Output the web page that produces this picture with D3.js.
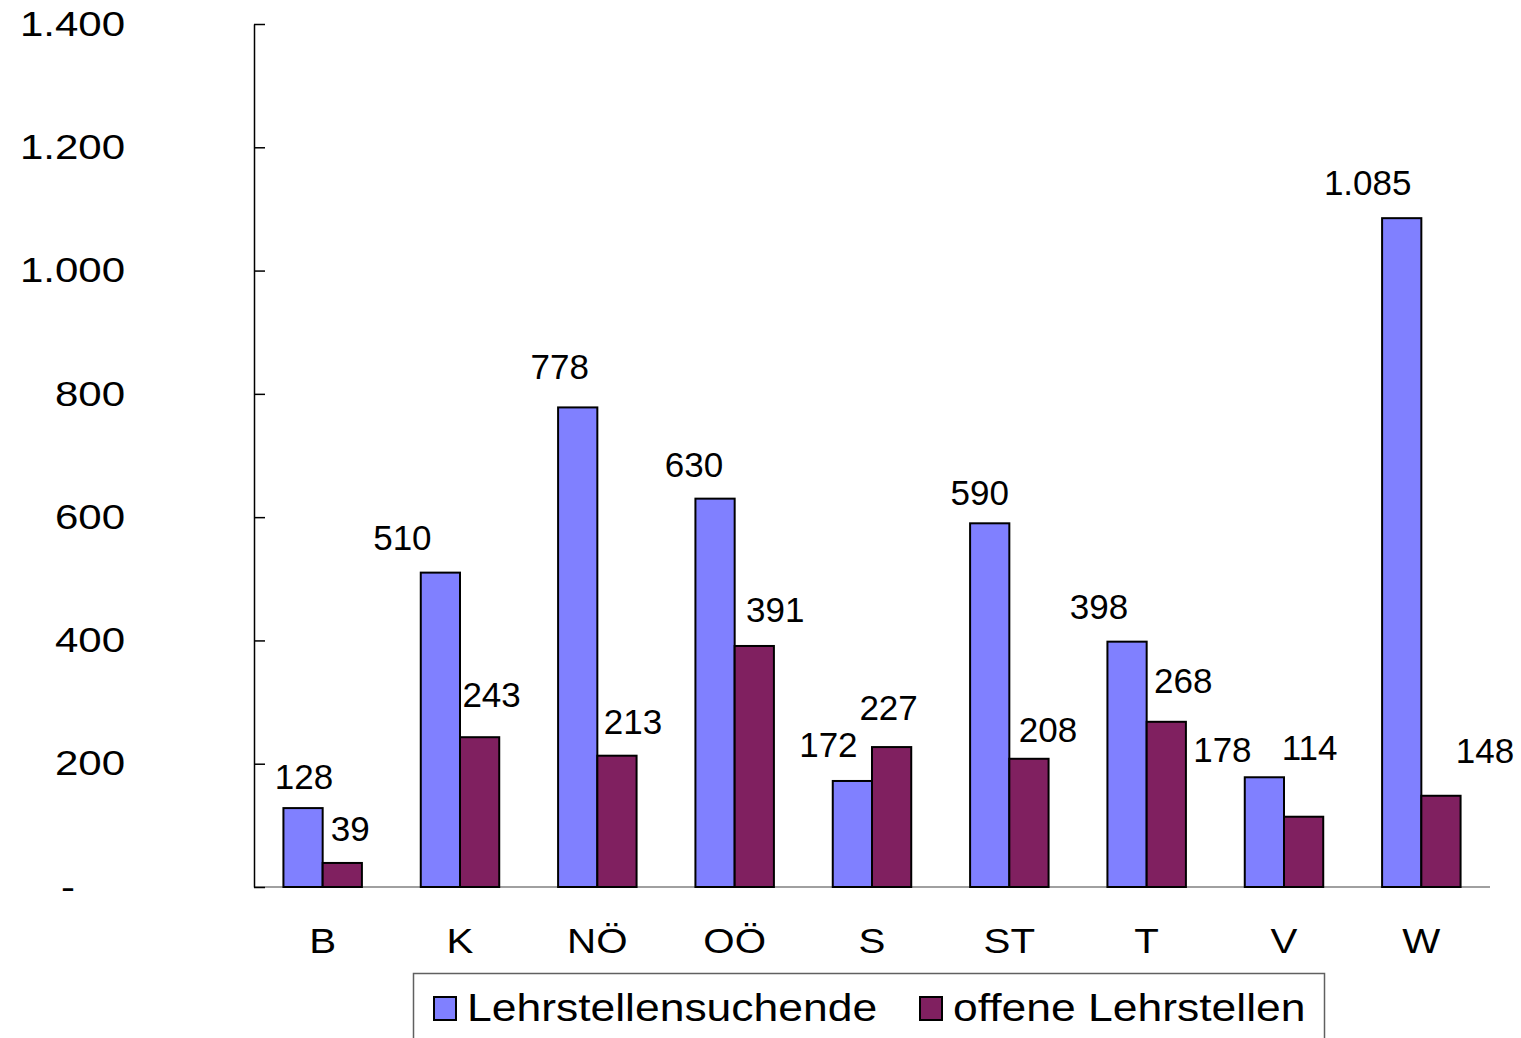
<!DOCTYPE html>
<html>
<head>
<meta charset="utf-8">
<script src="https://cdn.jsdelivr.net/npm/d3@7"></script>
<style>
  body { margin: 0; background: #fff; }
  text { font-family: "Liberation Sans", Arial, sans-serif; fill: #000; }
</style>
</head>
<body>
<div id="chart"></div>
<script>
var bundeslaender = ["B", "K", "NÖ", "OÖ", "S", "ST", "T", "V", "W"];
var suchende = [128, 510, 778, 630, 172, 590, 398, 178, 1085];
var offene = [39, 243, 213, 391, 227, 208, 268, 114, 148];
var yTicks = [0, 200, 400, 600, 800, 1000, 1200, 1400];
var seriesNames = ["Lehrstellensuchende", "offene Lehrstellen"];

// hand-placed data labels, like in the original (offset from bar centre / bar top)
var nudgeSuchende = [[1, -32], [-38, -35], [-18, -41], [-21, -34], [-24, -37], [-10, -31], [-28, -35], [-42, -28], [-34, -36]];
var nudgeOffene = [[8, -35], [12, -43], [16, -34], [21, -37], [-3, -40], [19, -29], [17, -41], [6, -69], [44, -45]];

var colors = ["#8080ff", "#802060"];

var width = 1521, height = 1038;
var margin = {top: 24, left: 254, right: 31, bottom: 151};

var de = d3.formatLocale({decimal: ",", thousands: ".", grouping: [3], currency: ["", " €"]});
var fmt = de.format(",.0f");

var svg = d3.select("#chart").append("svg")
    .attr("width", width)
    .attr("height", height);

var x = d3.scaleBand()
    .domain(bundeslaender)
    .range([margin.left, width - margin.right]);

var x1 = d3.scaleBand()
    .domain([0, 1])
    .range([0, x.bandwidth()])
    .paddingOuter(0.75)
    .paddingInner(0);

var y = d3.scaleLinear()
    .domain([0, 1400])
    .range([height - margin.bottom, margin.top]);

// x axis line (grey)
svg.append("line")
    .attr("x1", margin.left).attr("x2", width - margin.right)
    .attr("y1", y(0)).attr("y2", y(0))
    .attr("stroke", "#808080").attr("stroke-width", 1.5);

// y axis
var yAxis = svg.append("g")
    .attr("transform", "translate(" + margin.left + ",0)")
    .call(d3.axisLeft(y).tickValues(yTicks).tickSize(-11).tickSizeOuter(0)
      .tickFormat(function (d) { return d === 0 ? "-" : fmt(d); }));
yAxis.select(".domain").attr("stroke", "#000").attr("stroke-width", 1.5);
yAxis.selectAll(".tick line").attr("stroke", "#000").attr("stroke-width", 1.5);
yAxis.selectAll(".tick text")
    .attr("x", 0)
    .attr("font-family", null)
    .style("font-size", "35px")
    .attr("transform", function (d) {
      return "translate(" + (d === 0 ? -179 : -129) + ",0) scale(1.2,1)";
    });

// bars
var series = [suchende, offene];
var nudges = [nudgeSuchende, nudgeOffene];

series.forEach(function (values, s) {
  var g = svg.append("g");
  g.selectAll("rect")
    .data(values)
    .enter().append("rect")
    .attr("x", function (d, i) { return x(bundeslaender[i]) + x1(s); })
    .attr("width", x1.bandwidth())
    .attr("y", function (d) { return y(d); })
    .attr("height", function (d) { return y(0) - y(d); })
    .attr("fill", colors[s])
    .attr("stroke", "#000")
    .attr("stroke-width", 2);

  g.selectAll("text")
    .data(values)
    .enter().append("text")
    .attr("x", function (d, i) {
      return x(bundeslaender[i]) + x1(s) + x1.bandwidth() / 2 + nudges[s][i][0];
    })
    .attr("y", function (d, i) { return y(d) + nudges[s][i][1]; })
    .attr("dy", "0.36em")
    .attr("text-anchor", "middle")
    .style("font-size", "35px")
    .text(function (d) { return fmt(d); });
});

// category labels
svg.append("g").selectAll("text")
    .data(bundeslaender)
    .enter().append("text")
    .attr("transform", function (d) {
      return "translate(" + (x(d) + x.bandwidth() / 2) + "," + 940 + ") scale(1.12,1)";
    })
    .attr("dy", "0.36em")
    .attr("text-anchor", "middle")
    .style("font-size", "36px")
    .text(function (d) { return d; });

// legend
var legend = svg.append("g");
legend.append("rect")
    .attr("x", 413.5).attr("y", 973.5)
    .attr("width", 911).attr("height", 120)
    .attr("fill", "none")
    .attr("stroke", "#606060").attr("stroke-width", 1.5);

var legendX = [434, 920];
seriesNames.forEach(function (name, s) {
  legend.append("rect")
    .attr("x", legendX[s]).attr("y", 997)
    .attr("width", 22).attr("height", 23)
    .attr("fill", colors[s])
    .attr("stroke", "#000").attr("stroke-width", 2);
  legend.append("text")
    .attr("transform", "translate(" + (legendX[s] + 33) + ",1021) scale(1.14,1)")
    .style("font-size", "39px")
    .text(name);
});
</script>
</body>
</html>
